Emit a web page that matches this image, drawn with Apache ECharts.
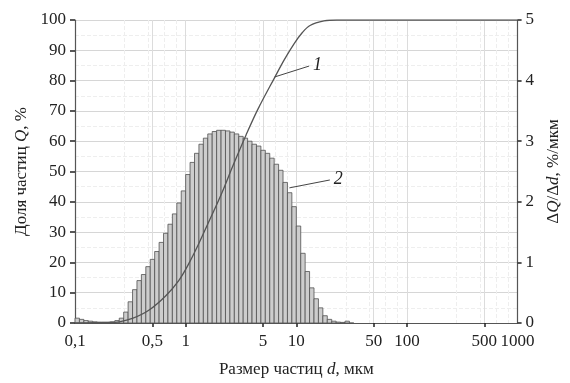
<!DOCTYPE html>
<html>
<head>
<meta charset="utf-8">
<script src="https://cdn.jsdelivr.net/npm/echarts@6/dist/echarts.min.js"></script>
<style>
  html, body { margin: 0; padding: 0; background: #fff; }
  #chart { width: 570px; height: 383px; }
</style>
</head>
<body>
<div id="chart"></div>
<script>
// analyser channels: 25 per decade starting at 0.1 µm
const binStart = 0.1;
const binsPerDecade = 25;

// ΔQ/Δd per channel, %/мкм (right axis)
const binValues = [
  0.08, 0.06, 0.04, 0.03, 0.02, 0.015, 0.015, 0.015, 0.02, 0.04,
  0.08, 0.18, 0.35, 0.55, 0.70, 0.80, 0.93, 1.05, 1.18, 1.33,
  1.48, 1.63, 1.80, 1.98, 2.18, 2.45, 2.65, 2.80, 2.95, 3.05,
  3.12, 3.16, 3.18, 3.18, 3.17, 3.15, 3.12, 3.08, 3.05, 3.00,
  2.95, 2.92, 2.85, 2.80, 2.72, 2.62, 2.52, 2.32, 2.15, 1.92,
  1.60, 1.15, 0.85, 0.58, 0.40, 0.25, 0.12, 0.06, 0.03, 0.015,
  0.01, 0.03, 0
];

// cumulative curve 1, Q %
const cumSizes = [0.1, 0.15, 0.2, 0.252, 0.33, 0.468, 0.662, 0.866, 1.064, 1.306, 1.6, 2.1, 2.68, 3.51, 4.49, 6.37, 7.82, 9.6, 11.3, 13.3, 17.8, 23.2, 50, 100, 500, 1000];
const cumValues = [0, 0.1, 0.15, 0.4, 1.5, 4.3, 9, 14, 19.5, 26, 33, 42.5, 52, 62, 70.5, 81, 87, 92.3, 95.8, 98.2, 99.7, 100, 100, 100, 100, 100];

const xLabelValues = [0.1, 0.5, 1, 5, 10, 50, 100, 500, 1000];
const xTickValues = [0.5, 1, 5, 10, 50, 100, 500];

const histData = binValues.map((v, i) => [
  binStart * Math.pow(10, i / binsPerDecade),
  binStart * Math.pow(10, (i + 1) / binsPerDecade),
  v
]);
const cumData = cumSizes.map((d, i) => [d, cumValues[i]]);

const serif = "Liberation Serif";
const txt = "#222";
const nameRich = {
  n: { fontFamily: serif, fontSize: 17, color: txt },
  i: { fontFamily: serif, fontSize: 17, color: txt, fontStyle: "italic" }
};

const chart = echarts.init(document.getElementById("chart"));

chart.setOption({
  animation: false,
  backgroundColor: "#fff",
  grid: { left: 75, right: 46, top: 20, bottom: 60 },
  xAxis: {
    type: "log",
    logBase: 10,
    min: 0.1,
    max: 1000,
    name: "{n|Размер частиц }{i|d}{n|, мкм}",
    nameLocation: "middle",
    nameGap: 38,
    nameTextStyle: { rich: nameRich },
    axisLine: { lineStyle: { color: "#555", width: 1.2 } },
    axisTick: { show: true, customValues: xTickValues, length: 4, lineStyle: { color: "#222", width: 1.5 } },
    axisLabel: {
      customValues: xLabelValues,
      fontFamily: serif, fontSize: 17, color: txt, margin: 10,
      formatter: v => String(+v.toPrecision(6)).replace(".", ",")
    },
    splitLine: { show: true, lineStyle: { color: "#dcdcdc", width: 1 } },
    minorTick: { show: false, splitNumber: 5 },
    minorSplitLine: { show: true, lineStyle: { color: "#eeeeee", type: "dashed" } }
  },
  yAxis: [
    {
      type: "value",
      min: 0, max: 100, interval: 10,
      name: "{n|Доля частиц }{i|Q}{n|, %}",
      nameLocation: "middle",
      nameGap: 45,
      nameTextStyle: { rich: nameRich },
      axisLine: { show: true, lineStyle: { color: "#555", width: 1.2 } },
      axisTick: { show: true, length: 5, lineStyle: { color: "#222", width: 1.5 } },
      axisLabel: { fontFamily: serif, fontSize: 17, color: txt, margin: 9 },
      splitLine: { show: true, lineStyle: { color: "#d6d6d6" } },
      minorTick: { show: false, splitNumber: 2 },
      minorSplitLine: { show: true, lineStyle: { color: "#eeeeee", type: "dashed" } }
    },
    {
      type: "value",
      min: 0, max: 5, interval: 1,
      position: "right",
      name: "{n|Δ}{i|Q}{n|/Δ}{i|d}{n|, %/мкм}",
      nameLocation: "middle",
      nameGap: 27,
      nameTextStyle: { rich: nameRich },
      axisLine: { show: true, lineStyle: { color: "#555", width: 1.2 } },
      axisTick: { show: true, length: 4, lineStyle: { color: "#222", width: 1.5 } },
      axisLabel: { fontFamily: serif, fontSize: 17, color: txt, margin: 8 },
      splitLine: { show: false }
    }
  ],
  series: [
    {
      name: "hist",
      type: "custom",
      yAxisIndex: 1,
      encode: { x: [0, 1], y: 2 },
      data: histData,
      renderItem: (params, api) => {
        const p0 = api.coord([api.value(0), api.value(2)]);
        const p1 = api.coord([api.value(1), 0]);
        return {
          type: "rect",
          shape: { x: p0[0], y: p0[1], width: p1[0] - p0[0], height: p1[1] - p0[1] },
          style: { fill: "#cdcdcd", stroke: "#505050", lineWidth: 0.8 }
        };
      },
      markLine: {
        silent: true,
        symbol: "none",
        lineStyle: { color: "#444", width: 1, type: "solid" },
        label: { show: true, position: "end", formatter: "2", fontFamily: serif, fontStyle: "italic", fontSize: 18, color: txt, distance: 4 },
        data: [[{ coord: [8.66, 2.23] }, { coord: [20.1, 2.36] }]]
      }
    },
    {
      name: "cum",
      type: "line",
      yAxisIndex: 0,
      data: cumData,
      smooth: 0.35,
      showSymbol: false,
      lineStyle: { color: "#555", width: 1.3 },
      markLine: {
        silent: true,
        symbol: "none",
        lineStyle: { color: "#444", width: 1, type: "solid" },
        label: { show: true, position: "end", formatter: "1", fontFamily: serif, fontStyle: "italic", fontSize: 18, color: txt, distance: 4 },
        data: [[{ coord: [6.37, 81.2] }, { coord: [13.06, 84.8] }]]
      }
    }
  ]
});
</script>
</body>
</html>
